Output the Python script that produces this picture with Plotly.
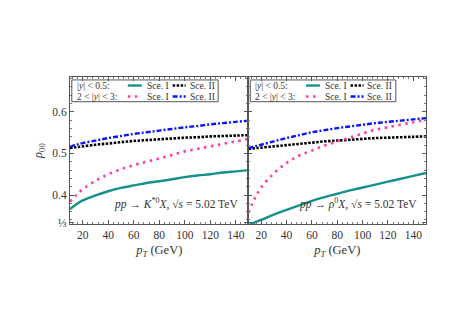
"""Spin alignment rho_00 vs p_T for K*0 and rho0 in pp at 5.02 TeV."""

import plotly.graph_objects as go

PT = [10, 15, 20, 30, 40, 50, 60, 70, 80, 90, 100, 110, 120, 130, 140, 150]

# K*0 panel
KSTAR_MID_I = [0.366, 0.378, 0.387, 0.399, 0.409, 0.417, 0.423, 0.429, 0.433, 0.438, 0.443, 0.447, 0.450, 0.454, 0.457, 0.460]
KSTAR_MID_II = [0.513, 0.515, 0.517, 0.521, 0.524, 0.527, 0.530, 0.532, 0.534, 0.536, 0.538, 0.539, 0.541, 0.542, 0.543, 0.544]
KSTAR_FWD_I = [0.384, 0.400, 0.414, 0.434, 0.450, 0.462, 0.472, 0.480, 0.488, 0.496, 0.505, 0.511, 0.517, 0.523, 0.529, 0.535]
KSTAR_FWD_II = [0.517, 0.521, 0.525, 0.531, 0.537, 0.542, 0.547, 0.551, 0.555, 0.559, 0.563, 0.566, 0.570, 0.573, 0.576, 0.579]

# rho0 panel
RHO_MID_I = [0.327, 0.334, 0.340, 0.353, 0.364, 0.375, 0.386, 0.395, 0.403, 0.411, 0.418, 0.425, 0.432, 0.439, 0.446, 0.453]
RHO_MID_II = [0.511, 0.5125, 0.514, 0.517, 0.520, 0.523, 0.526, 0.529, 0.531, 0.533, 0.535, 0.537, 0.538, 0.539, 0.540, 0.541]
RHO_FWD_I = [0.358, 0.392, 0.418, 0.452, 0.477, 0.495, 0.507, 0.519, 0.529, 0.538, 0.548, 0.557, 0.563, 0.569, 0.575, 0.580]
RHO_FWD_II = [0.513, 0.517, 0.521, 0.529, 0.537, 0.544, 0.551, 0.556, 0.561, 0.565, 0.569, 0.573, 0.576, 0.579, 0.582, 0.585]

X_TICKS = [20, 40, 60, 80, 100, 120, 140]
Y_TICKS = [1 / 3, 0.4, 0.5, 0.6]
Y_TICK_TEXT = ["⅓", "0.4", "0.5", "0.6"]

ROW_LABELS = ["|<i>y</i>| < 0.5:", "2 < |<i>y</i>| < 3:"]
SCENARIOS = ["Sce. I", "Sce. II"]

FONT = "Liberation Serif"
INK = "#333"
STYLES = {
    "mid_I": dict(color="#16908c", width=2.4, dash="solid"),
    "mid_II": dict(color="#000000", width=2.6, dash="2.5px,1.5px"),
    "fwd_I": dict(color="#ff3da5", width=2.6, dash="2.5px,4.5px"),
    "fwd_II": dict(color="#0a14ff", width=2.4, dash="5px,2px,2px,2px"),
}
KEY_GRID = [["mid_I", "mid_II"], ["fwd_I", "fwd_II"]]

fig = go.Figure()

panels = [
    ("x", "y", KSTAR_MID_I, KSTAR_MID_II, KSTAR_FWD_I, KSTAR_FWD_II),
    ("x2", "y2", RHO_MID_I, RHO_MID_II, RHO_FWD_I, RHO_FWD_II),
]
for xa, ya, mid1, mid2, fwd1, fwd2 in panels:
    for vals, key in [(mid1, "mid_I"), (mid2, "mid_II"), (fwd1, "fwd_I"), (fwd2, "fwd_II")]:
        fig.add_trace(go.Scatter(x=PT, y=vals, mode="lines", line=STYLES[key], line_shape="spline",
                                 xaxis=xa, yaxis=ya, showlegend=False, hoverinfo="skip"))

SPLIT = 0.5014
axis_common = dict(showline=True, linecolor="#555", linewidth=1, mirror="allticks", ticks="inside",
                   ticklen=4, tickcolor="#555", showgrid=False, zeroline=False,
                   tickfont=dict(family=FONT, size=11.5, color=INK))
xaxis_common = dict(axis_common, range=[10, 150], tickvals=X_TICKS,
                    minor=dict(ticks="inside", ticklen=2, dtick=4, tick0=0, tickcolor="#777"),
                    title=dict(text="<i>p<sub>T</sub></i> (GeV)", font=dict(family=FONT, size=12.5, color=INK),
                               standoff=5))
yaxis_common = dict(axis_common, range=[0.3302, 0.684], tickvals=Y_TICKS, ticktext=Y_TICK_TEXT,
                    minor=dict(ticks="inside", ticklen=2, tickvals=[0.34 + 0.02 * i for i in range(18)],
                               tickcolor="#777"))

# the page body keeps its 8px default margin, so the figure is 8px smaller
fig.update_layout(
    width=460, height=323,
    margin=dict(l=62, r=42, t=69, b=107, autoexpand=False),
    paper_bgcolor="white", plot_bgcolor="white",
    font=dict(family=FONT, color=INK),
    showlegend=False,
    xaxis=dict(xaxis_common, domain=[0, SPLIT], anchor="y"),
    xaxis2=dict(xaxis_common, domain=[SPLIT, 1], anchor="y2"),
    yaxis=dict(yaxis_common, domain=[0, 1], anchor="x",
               title=dict(text="<i>ρ</i><sub>00</sub>", font=dict(family=FONT, size=12.5, color=INK), standoff=6)),
    yaxis2=dict(yaxis_common, domain=[0, 1], anchor="x2", showticklabels=False),
)

# hand-built legend box in each panel (keys are short, as in the original)
ROW_Y = [0.942, 0.867]
KEY_X = [(0.324, 0.402, 0.419), (0.575, 0.648, 0.659)]
for xd, yd in [("x domain", "y domain"), ("x2 domain", "y2 domain")]:
    fig.add_shape(type="rect", xref=xd, yref=yd, x0=0.01, x1=0.83, y0=0.832, y1=0.98,
                  line=dict(color="#555", width=1), fillcolor="rgba(0,0,0,0)")
    for r, label in enumerate(ROW_LABELS):
        fig.add_annotation(xref=xd, yref=yd, x=0.028, y=ROW_Y[r], text=label, showarrow=False,
                           xanchor="left", yanchor="middle", font=dict(family=FONT, size=9.5, color=INK))
        for c, scen in enumerate(SCENARIOS):
            x0, x1, xt = KEY_X[c]
            st = STYLES[KEY_GRID[r][c]]
            fig.add_shape(type="line", xref=xd, yref=yd, x0=x0, x1=x1, y0=ROW_Y[r], y1=ROW_Y[r],
                          line=dict(color=st["color"], width=st["width"], dash=st["dash"]))
            fig.add_annotation(xref=xd, yref=yd, x=xt, y=ROW_Y[r], text=scen, showarrow=False,
                               xanchor="left", yanchor="middle", font=dict(family=FONT, size=9.5, color=INK))

fig.add_annotation(xref="x domain", yref="y domain", x=0.595, y=0.072, showarrow=False,
                   text="<i>pp</i> → <i>K</i><sup>*0</sup><i>X</i>, √<i>s</i> = 5.02 TeV",
                   font=dict(family=FONT, size=11.5, color=INK))
fig.add_annotation(xref="x2 domain", yref="y2 domain", x=0.615, y=0.072, showarrow=False,
                   text="<i>pp</i> → <i>ρ</i><sup>0</sup><i>X</i>, √<i>s</i> = 5.02 TeV",
                   font=dict(family=FONT, size=11.5, color=INK))

fig.write_html("out.html")
